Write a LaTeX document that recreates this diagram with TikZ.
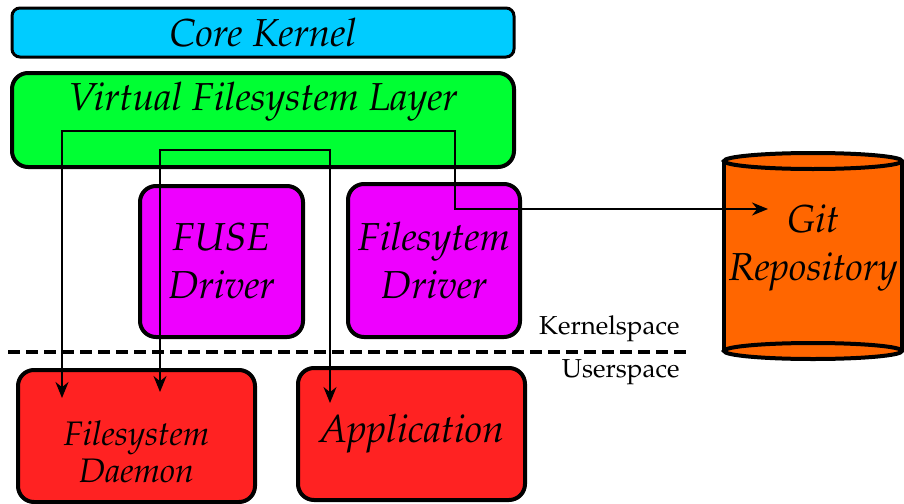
\documentclass[tikz,border=0pt]{standalone}
\usepackage[T1]{fontenc}
\usepackage{mathpazo}
\usetikzlibrary{positioning}
\usetikzlibrary{arrows.meta}

\definecolor{kernelcyan}{HTML}{00CCFF}
\definecolor{vfsgreen}{HTML}{00FF33}
\definecolor{drivermagenta}{HTML}{EE00FF}
\definecolor{userred}{HTML}{FF2222}
\definecolor{gitorange}{HTML}{FF6600}

\tikzset{
  box/.style={draw=black, line width=2pt, rounded corners=8pt, inner sep=0pt, align=center,
    font=\fontsize{19.5}{24}\selectfont\itshape},
  link/.style={draw=black, line width=1pt, {Stealth[length=8pt,width=6.5pt]}-{Stealth[length=8pt,width=6.5pt]}},
  spacelabel/.style={font=\fontsize{13}{15}\selectfont, inner sep=0pt}
}

\begin{document}
\begin{tikzpicture}[x=0.5pt,y=-0.5pt]
\useasboundingbox (0,0) rectangle (904,503);
%kernel boxes
\node[box, fill=kernelcyan, line width=1.5pt, rounded corners=4pt, minimum width=251pt, minimum height=24.5pt] (core) at (263,32.5) {Core Kernel};
\node[box, fill=vfsgreen, rounded corners=8pt, minimum width=251pt, minimum height=47pt] (vfs) at (263,120) {};
\node[font=\fontsize{19.5}{24}\selectfont\itshape, inner sep=0pt] (vfstext) at (263,102) {Virtual Filesystem Layer};
\node[box, fill=drivermagenta, minimum width=81.5pt, minimum height=75.5pt] (fuse) at (221.5,261.5) {FUSE\\Driver};
\node[box, fill=drivermagenta, minimum width=86pt, minimum height=76.5pt] (fsdrv) at (434,260.5) {Filesytem\\Driver};
%userspace boxes
\node[box, fill=userred, minimum width=118.5pt, minimum height=66pt] (daemon) at (136.5,436) {};
\node[font=\fontsize{17}{18.5}\selectfont\itshape, inner sep=0pt, align=center] (daemontext) at (136.5,452) {Filesystem\\Daemon};
\node[box, fill=userred, minimum width=113.5pt, minimum height=66pt] (app) at (411.5,434) {Application};
%repository
\fill[gitorange] (724,160) rectangle (902,351);
\filldraw[fill=gitorange, line width=2pt] (813,351) ellipse [x radius=89, y radius=8];
\draw[line width=2pt] (724,160) -- (724,351);
\draw[line width=2pt] (902,160) -- (902,351);
\filldraw[fill=gitorange, line width=2pt] (813,161) ellipse [x radius=89, y radius=8];
\node[font=\fontsize{19.5}{24}\selectfont\itshape, inner sep=0pt, align=center] (git) at (813,248) {Git\\Repository};
%spaces
\draw[line width=2pt, dash pattern=on 6pt off 3pt] (8,352) -- (688,352);
\node[spacelabel, anchor=east] (kspace) at (680,329) {Kernelspace};
\node[spacelabel, anchor=east] (uspace) at (680,372) {Userspace};
%connectors
\coordinate (dtipa) at (62,398);
\coordinate (dtipb) at (160,392);
\coordinate (apptip) at (330,403);
\coordinate (gittip) at (768,209);
\draw[link] (dtipa) -- (62,131) -- (455,131) |- (gittip);
\draw[link] (dtipb) -- (160,150) -- (330,150) -- (apptip);
\end{tikzpicture}
\end{document}
